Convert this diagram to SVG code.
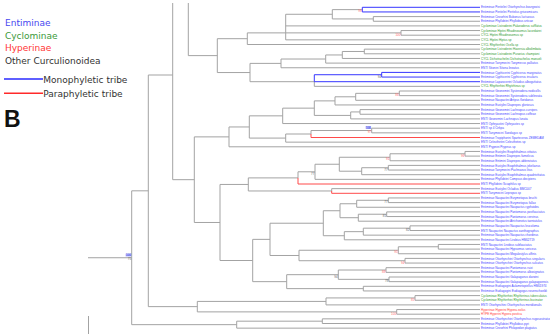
<svg xmlns="http://www.w3.org/2000/svg" width="550" height="334" viewBox="0 0 550 334">
<style>
.t{fill:none;stroke:#a3a3a3;stroke-width:1}
.tb{fill:none;stroke:#3636ff;stroke-width:1}
.tr{fill:none;stroke:#ff4a4a;stroke-width:1}
.lf{font-family:"Liberation Sans",Arial,sans-serif;font-size:3px}
.E{fill:#4646ff}.C{fill:#2f9a2f}.H{fill:#ff3a3a}
.s{font-family:"Liberation Sans",Arial,sans-serif;font-size:3px;text-anchor:end}
.sr{fill:#ff6a6a}.sg{fill:#666}.sb{fill:#2a2ad0}
.lg{font-family:"DejaVu Sans",Verdana,sans-serif;font-size:9px}
</style>
<rect width="550" height="334" fill="#fff"/>
<g id="legend">
<text class="lg" x="5" y="26" fill="#4848f0">Entiminae</text>
<text class="lg" x="5" y="38.5" fill="#3a9a3a">Cyclominae</text>
<text class="lg" x="5" y="51" fill="#ff3535">Hyperinae</text>
<text class="lg" x="5" y="63.8" fill="#333">Other Curculionoidea</text>
<line x1="4" y1="79" x2="43" y2="79" stroke="#2a2aff" stroke-width="1.6"/>
<text class="lg" x="43.3" y="82.6" fill="#333">Monophyletic tribe</text>
<line x1="4" y1="93.3" x2="43" y2="93.3" stroke="#ff2a2a" stroke-width="1.6"/>
<text class="lg" x="43.3" y="96.8" fill="#333">Paraphyletic tribe</text>
<text x="4" y="126.5" font-family="Liberation Sans,Arial,sans-serif" font-size="23" font-weight="bold" fill="#111">B</text>
</g>
<g id="connectors">
<path class="t" d="M188.3 3V55.62M172.7 3V179.68M188.3 55.62H217.3M217.3 38.69V72.55M217.3 38.69H247.3M247.3 32.88V44.5M247.3 32.88H285.7M285.7 14.28V39.85M285.7 14.28H332.3M332.3 9.63V18.93M332.3 9.63H362.3M332.3 18.93H373.3M373.3 16.6V21.25M373.3 16.6H480M373.3 21.25H480M285.7 25.9H480M285.7 32.88H401M401 30.55V35.2M401 30.55H480M401 35.2H480M285.7 39.85H480M247.3 44.5H480M217.3 72.55H250M250 63.39V81.7M250 63.39H281M281 59.03V67.75M281 59.03H325.7M325.7 54.96V63.1M325.7 54.96H342.3M342.3 51.48V58.45M342.3 51.48H364.3M364.3 49.15V53.8M364.3 49.15H480M364.3 53.8H480M342.3 58.45H480M325.7 63.1H480M281 67.75H480M250 81.7H314.3M314.3 81.7V86.35M314.3 86.35H480"/>
<path class="tb" d="M362.3 7.3V11.95M362.3 7.3H480M362.3 11.95H480M314.3 74.73V81.7M314.3 74.73H381.7M381.7 72.4V77.05M381.7 72.4H480M381.7 77.05H480M314.3 81.7H480"/>
<path class="t" d="M172.7 179.68H194.3M194.3 136.88V222.47M194.3 136.88H229M229 126.96V146.8M229 126.96H249.3M249.3 115.85V138.08M249.3 115.85H282.7M282.7 108.15V123.55M282.7 108.15H314.3M314.3 100.88V115.41M314.3 100.88H335M335 96.81V104.95M335 96.81H355.7M355.7 93.33V100.3M355.7 93.33H399.3M399.3 91V95.65M399.3 91H480M399.3 95.65H480M355.7 100.3H480M335 104.95H480M314.3 115.41H350.7M350.7 111.93V118.9M350.7 111.93H360M360 109.6V114.25M360 109.6H480M360 114.25H480M350.7 118.9H480M282.7 123.55H480M249.3 138.08H285.7M285.7 134.01V142.15M285.7 134.01H311M311 130.53V134.01M311 130.53H371.7M371.7 128.2V132.85M371.7 128.2H480M371.7 132.85H480M285.7 142.15H480M229 146.8H480"/>
<path class="t" d="M194.3 222.47H220M220 184.44V260.5M220 184.44H248.3M248.3 177.9V190.98M248.3 177.9H298M298 171.79V177.9M298 171.79H315M315 164.24V179.35M315 164.24H339.3M339.3 157.26V171.21M339.3 157.26H390M390 153.78V160.75M390 153.78H465M465 151.45V156.1M465 151.45H480M465 156.1H480M390 160.75H480M339.3 171.21H361.7M361.7 167.73V174.7M361.7 167.73H388.3M388.3 165.4V170.05M388.3 165.4H480M388.3 170.05H480M361.7 174.7H480M315 179.35H480M248.3 190.98H331.7M331.7 188.65V190.98M331.7 188.65H480"/>
<path class="t" d="M220 260.5H252.7M252.7 239.36V281.65M252.7 239.36H270M270 223.23V255.49M270 223.23H323.3M323.3 210.74V235.73M323.3 210.74H340M340 203.76V217.71M340 203.76H356.7M356.7 200.28V207.25M356.7 200.28H388.3M388.3 197.95V202.6M388.3 197.95H480M388.3 202.6H480M356.7 207.25H480M340 217.71H358.3M358.3 214.23V221.2M358.3 214.23H386.7M386.7 211.9V216.55M386.7 211.9H480M386.7 216.55H480M358.3 221.2H480M323.3 235.73H344.3M344.3 231.66V239.8M344.3 231.66H363.3M363.3 228.18V235.15M363.3 228.18H410M410 225.85V230.5M410 225.85H480M410 230.5H480M363.3 235.15H480M344.3 239.8H480M270 255.49H299M299 250.26V260.73M299 250.26H398.3M398.3 246.78V253.75M398.3 246.78H438.3M438.3 244.45V249.1M438.3 244.45H480M438.3 249.1H480M398.3 253.75H480M299 260.73H405M405 258.4V263.05M405 258.4H480M405 263.05H480M252.7 281.65H286.7M286.7 274.68V288.63M286.7 274.68H338.3M338.3 270.03V279.33M338.3 270.03H386M386 267.7V272.35M386 267.7H480M386 272.35H480M338.3 279.33H389M389 277V281.65M389 277H480M389 281.65H480M286.7 288.63H363.3M363.3 286.3V290.95M363.3 286.3H480M363.3 290.95H480"/>
<path class="t" d="M148.3 75H172.7M148.3 75V306.64M148.3 306.64H197.3M197.3 301.41V311.88M197.3 301.41H326M326 297.93V304.9M326 297.93H415M415 295.6V300.25M415 295.6H480M415 300.25H480M326 304.9H480M197.3 311.88H396.7M396.7 309.55V314.2M396.7 309.55H480M396.7 314.2H480M131.7 190.82V324.66M131.7 190.82H148.3M131.7 324.66H236.7M236.7 321.18V328.15M236.7 321.18H322.3M322.3 318.85V323.5M322.3 318.85H480M322.3 323.5H480M236.7 328.15H480M88 257.74H131.7M88.5 316V334"/>
<path class="tr" d="M311 134.01V137.5H480M298 177.9V184H480M331.7 190.98V193.3H480"/>
</g>
<g id="support">
<text class="s sr" x="361.7" y="12.4">99</text>
<text class="s sr" x="400.4" y="35.8">100</text>
<text class="s sg" x="381.1" y="77.6">94</text>
<text class="s sr" x="398.7" y="96.2">86</text>
<rect x="365.6" y="126" width="5.4" height="2.8" fill="#b4b8ff"/>
<text class="s sb" x="371" y="128.5">100</text>
<text class="s sr" x="371" y="133.2">97</text>
<text class="s sr" x="464.4" y="156.6">96</text>
<text class="s sr" x="389.4" y="160.1">91</text>
<text class="s sg" x="387.7" y="170.6">77</text>
<text class="s sg" x="314.4" y="174.6">77</text>
<text class="s sg" x="387.7" y="203.1">77</text>
<text class="s sg" x="386.1" y="217.1">81</text>
<text class="s sg" x="409.4" y="231">82</text>
<text class="s sr" x="397.7" y="253.1">95</text>
<text class="s sr" x="404.4" y="263.6">94</text>
<text class="s sr" x="385.4" y="272.9">88</text>
<text class="s sg" x="388.4" y="282.2">78</text>
<text class="s sg" x="337.7" y="277.5">94</text>
<text class="s sr" x="414.4" y="300.8">85</text>
<text class="s sr" x="396.1" y="314.7">100</text>
<rect x="125.6" y="253.6" width="5.6" height="2.9" fill="#b4b8ff"/>
<text class="s sb" x="131.1" y="256.1">100</text>
<text class="s sg" x="131.1" y="260.2">75</text>
</g>
<g id="leaves" class="lf">
<g id="leaf-00"><text class="E" x="481" y="8.4">Entiminae Peritelini Otiorhynchus bourgeoisi</text></g>
<g id="leaf-01"><text class="E" x="481" y="13.05">Entiminae Peritelini Peritelus griseomicans</text></g>
<g id="leaf-02"><text class="E" x="481" y="17.7">Entiminae Cneorhini Bubonus luctuosus</text></g>
<g id="leaf-03"><text class="E" x="481" y="22.35">Entiminae Phyllobiini Phyllobius urticae</text></g>
<g id="leaf-04"><text class="C" x="481" y="27">Cyclominae Listroderini Palaeoderus sufflatus</text></g>
<g id="leaf-05"><text class="C" x="481" y="31.65">Cyclominae Hiptini Rhadinosomus lacordairei</text></g>
<g id="leaf-06"><text class="C" x="481" y="36.3">CYCL Hiptini Rhadinosomus sp</text></g>
<g id="leaf-07"><text class="C" x="481" y="40.95">CYCL Hiptini Hiptus sp</text></g>
<g id="leaf-08"><text class="C" x="481" y="45.6">CYCL Rhythirrhini Ocella sp</text></g>
<g id="leaf-09"><text class="C" x="481" y="50.25">Cyclominae Listroderini Haversia albolimbata</text></g>
<g id="leaf-10"><text class="C" x="481" y="54.9">Cyclominae Listroderini Puranius championi</text></g>
<g id="leaf-11"><text class="C" x="481" y="59.55">CYCL Dichotrachelini Dichotrachelus manueli</text></g>
<g id="leaf-12"><text class="E" x="481" y="64.2">Entiminae Tanymecini Tanymecus palliatus</text></g>
<g id="leaf-13"><text class="E" x="481" y="68.85">ENTI Sitonini Sitona lineatus</text></g>
<g id="leaf-14"><text class="E" x="481" y="73.5">Entiminae Cyphicerini Cyphicerus marginatus</text></g>
<g id="leaf-15"><text class="E" x="481" y="78.15">Entiminae Cyphicerini Cyphicerus insularis</text></g>
<g id="leaf-16"><text class="E" x="481" y="82.8">Entiminae Laparocerini Ocladius alboguttatus</text></g>
<g id="leaf-17"><text class="C" x="481" y="87.45">CYCL Rhythirrhini Rhytirhinus sp</text></g>
<g id="leaf-18"><text class="E" x="481" y="92.1">Entiminae Geonemini Systenodera nodicollis</text></g>
<g id="leaf-19"><text class="E" x="481" y="96.75">Entiminae Geonemini Systenodera sublineata</text></g>
<g id="leaf-20"><text class="E" x="481" y="101.4">Entiminae Naupactini Artipus floridanus</text></g>
<g id="leaf-21"><text class="E" x="481" y="106.05">Entiminae Eustylini Diaprepes gloriosus</text></g>
<g id="leaf-22"><text class="E" x="481" y="110.7">Entiminae Geonemini Lachnopus curvipes</text></g>
<g id="leaf-23"><text class="E" x="481" y="115.35">Entiminae Geonemini Lachnopus coffeae</text></g>
<g id="leaf-24"><text class="E" x="481" y="120">ENTI Geonemini Lachnopus lunata</text></g>
<g id="leaf-25"><text class="E" x="481" y="124.65">ENTI Ophryastini Ophryastes sp</text></g>
<g id="leaf-26"><text class="E" x="481" y="129.3">ENTI sp 4 Cirkpa</text></g>
<g id="leaf-27"><text class="E" x="481" y="133.95">ENTI Tanymecini Sandagus sp</text></g>
<g id="leaf-28"><text class="E" x="481" y="138.6">Entiminae Tropiphorini Sparteceros ZEMEDAM</text></g>
<g id="leaf-29"><text class="E" x="481" y="143.25">ENTI Celeuthetini Celeuthetes sp</text></g>
<g id="leaf-30"><text class="E" x="481" y="147.9">ENTI Prypnini Prypnus sp</text></g>
<g id="leaf-31"><text class="E" x="481" y="152.55">Entiminae Eustylini Exophthalmus vittatus</text></g>
<g id="leaf-32"><text class="E" x="481" y="157.2">Entiminae Entimini Diaprepes famelicus</text></g>
<g id="leaf-33"><text class="E" x="481" y="161.85">Entiminae Entimini Diaprepes abbreviatus</text></g>
<g id="leaf-34"><text class="E" x="481" y="166.5">Entiminae Eustylini Exophthalmus jekelianus</text></g>
<g id="leaf-35"><text class="E" x="481" y="171.15">Entiminae Tanymecini Pachnaeus litus</text></g>
<g id="leaf-36"><text class="E" x="481" y="175.8">Entiminae Eustylini Exophthalmus quadrivittatus</text></g>
<g id="leaf-37"><text class="E" x="481" y="180.45">Entiminae Phyllobiini Compsus decipiens</text></g>
<g id="leaf-38"><text class="E" x="481" y="185.1">ENTI Phyllobiini Sciaphilus sp</text></g>
<g id="leaf-39"><text class="E" x="481" y="189.75">Entiminae Eustylini Ocladius BMC007</text></g>
<g id="leaf-40"><text class="E" x="481" y="194.4">ENTI Tanymecini Lepropus sp</text></g>
<g id="leaf-41"><text class="E" x="481" y="199.05">Entiminae Naupactini Eurymetopus bruchi</text></g>
<g id="leaf-42"><text class="E" x="481" y="203.7">Entiminae Naupactini Eurymetopus fallax</text></g>
<g id="leaf-43"><text class="E" x="481" y="208.35">Entiminae Naupactini Naupactus cyphoides</text></g>
<g id="leaf-44"><text class="E" x="481" y="213">Entiminae Naupactini Pantomorus postfasciatus</text></g>
<g id="leaf-45"><text class="E" x="481" y="217.65">Entiminae Naupactini Pantomorus cervinus</text></g>
<g id="leaf-46"><text class="E" x="481" y="222.3">Entiminae Naupactini Atrichonotus taeniatulus</text></g>
<g id="leaf-47"><text class="E" x="481" y="226.95">Entiminae Naupactini Naupactus leucoloma</text></g>
<g id="leaf-48"><text class="E" x="481" y="231.6">ENTI Naupactini Naupactus xanthographus</text></g>
<g id="leaf-49"><text class="E" x="481" y="236.25">Entiminae Naupactini Naupactus chordinus</text></g>
<g id="leaf-50"><text class="E" x="481" y="240.9">Entiminae Naupactini Lirobius HM02719</text></g>
<g id="leaf-51"><text class="E" x="481" y="245.55">ENTI Naupactini Lirobius subfasciatus</text></g>
<g id="leaf-52"><text class="E" x="481" y="250.2">Entiminae Naupactini Hypsomus sericeus</text></g>
<g id="leaf-53"><text class="E" x="481" y="254.85">Entiminae Naupactini Megalostylus affinis</text></g>
<g id="leaf-54"><text class="E" x="481" y="259.5">Entiminae Otiorhynchini Otiorhynchus singularis</text></g>
<g id="leaf-55"><text class="E" x="481" y="264.15">Entiminae Otiorhynchini Otiorhynchus sulcatus</text></g>
<g id="leaf-56"><text class="E" x="481" y="268.8">Entiminae Naupactini Pantomorus ruizi</text></g>
<g id="leaf-57"><text class="E" x="481" y="273.45">Entiminae Naupactini Pantomorus albosignatus</text></g>
<g id="leaf-58"><text class="E" x="481" y="278.1">Entiminae Naupactini Galapaganus darwini</text></g>
<g id="leaf-59"><text class="E" x="481" y="282.75">Entiminae Naupactini Galapaganus galapagoensis</text></g>
<g id="leaf-60"><text class="E" x="481" y="287.4">Entiminae Eudiagogini Aulametopiellus HM01974</text></g>
<g id="leaf-61"><text class="E" x="481" y="292.05">Entiminae Eudiagogini Eudiagogus rosenschoeldi</text></g>
<g id="leaf-62"><text class="C" x="481" y="296.7">Cyclominae Rhythirrhini Rhythirrinus tuberculatus</text></g>
<g id="leaf-63"><text class="C" x="481" y="301.35">Cyclominae Rhythirrhini Rhythirrinus bucinator</text></g>
<g id="leaf-64"><text class="E" x="481" y="306">ENTI Otiorhynchini Otiorhynchus meridionalis</text></g>
<g id="leaf-65"><text class="H" x="481" y="310.65">Hyperinae Hyperini Hypera zoilus</text></g>
<g id="leaf-66"><text class="H" x="481" y="315.3">HYPE Hyperini Hypera postica</text></g>
<g id="leaf-67"><text class="E" x="481" y="319.95">Entiminae Otiorhynchini Otiorhynchus rugosostriatus</text></g>
<g id="leaf-68"><text class="E" x="481" y="324.6">Entiminae Phyllobiini Phyllobius pyri</text></g>
<g id="leaf-69"><text class="E" x="481" y="329.25">Entiminae Cneorhini Philopedon plagiatus</text></g>
</g>
</svg>
